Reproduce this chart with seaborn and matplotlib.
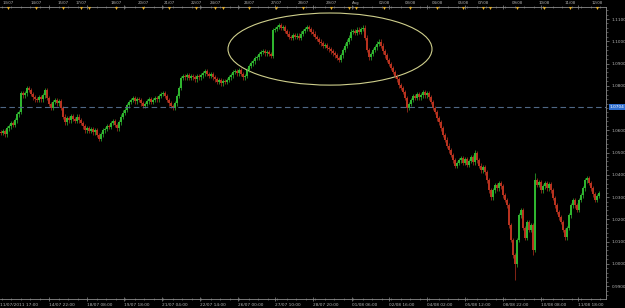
import numpy as np
import pandas as pd
import matplotlib
matplotlib.use("Agg")
import matplotlib.pyplot as plt
import matplotlib.transforms as mtransforms
from matplotlib.patches import Ellipse
from matplotlib.ticker import FixedLocator, MultipleLocator, AutoMinorLocator
import seaborn as sns

# ---------------- data (AUD/USD H1) ----------------
first_open = 1.0592
closes = [
    1.0588, 1.0597, 1.0583, 1.0610, 1.0619, 1.0633, 1.0624, 1.0646, 1.0673, 1.0682,
    1.0767,
    1.0758, 1.0767, 1.0790, 1.0781,
    1.0763, 1.0749, 1.0740,
    1.0736, 1.0749, 1.0740, 1.0758, 1.0781,
    1.0745, 1.0718, 1.0700,
    1.0727, 1.0736, 1.0722, 1.0731,
    1.0700, 1.0660, 1.0637,
    1.0655, 1.0646, 1.0664, 1.0651, 1.0642, 1.0660, 1.0646,
    1.0633, 1.0619, 1.0601, 1.0610, 1.0597,
    1.0606, 1.0592, 1.0601, 1.0579, 1.0561,
    1.0583, 1.0601, 1.0606, 1.0619, 1.0615, 1.0633,
    1.0642, 1.0624, 1.0610,
    1.0637, 1.0660, 1.0678, 1.0691, 1.0713, 1.0727,
    1.0736, 1.0745, 1.0731, 1.0740, 1.0736,
    1.0722, 1.0709, 1.0718,
    1.0731, 1.0740, 1.0727, 1.0736, 1.0745,
    1.0740, 1.0754, 1.0763, 1.0767,
    1.0754, 1.0736, 1.0722, 1.0709, 1.0700,
    1.0722, 1.0754, 1.0790, 1.0835,
    1.0844, 1.0839, 1.0848, 1.0835, 1.0844, 1.0839, 1.0830, 1.0844, 1.0839,
    1.0848, 1.0857, 1.0866, 1.0853, 1.0844, 1.0853, 1.0839, 1.0830,
    1.0817, 1.0826, 1.0812, 1.0821, 1.0817, 1.0826,
    1.0839, 1.0848, 1.0862, 1.0866, 1.0857, 1.0871,
    1.0853, 1.0839, 1.0844,
    1.0871, 1.0889, 1.0902, 1.0911, 1.0925, 1.0929, 1.0943, 1.0952,
    1.0956, 1.0947, 1.0952, 1.0943, 1.0934,
    1.1051,
    1.1055, 1.1064, 1.1073, 1.1060, 1.1064,
    1.1046, 1.1033, 1.1019, 1.1015,
    1.1028, 1.1019, 1.1024, 1.1015,
    1.1033, 1.1046, 1.1055, 1.1064,
    1.1055, 1.1042, 1.1033, 1.1019, 1.1010, 1.0997,
    1.0992, 1.0979, 1.0983, 1.0970, 1.0965, 1.0956,
    1.0947, 1.0938, 1.0925, 1.0916,
    1.0938, 1.0961, 1.0979, 1.0997, 1.1015, 1.1042,
    1.1046, 1.1037, 1.1051, 1.1042, 1.1055, 1.1060,
    1.1015, 1.0961, 1.0929,
    1.0943, 1.0961, 1.0974, 1.0988, 1.0997,
    1.0979, 1.0956, 1.0938, 1.0916, 1.0898, 1.0880, 1.0862,
    1.0844, 1.0830, 1.0803, 1.0790, 1.0772, 1.0745, 1.0700,
    1.0718, 1.0736, 1.0754, 1.0745, 1.0763, 1.0749, 1.0758,
    1.0772, 1.0758, 1.0767, 1.0749,
    1.0727, 1.0700, 1.0682, 1.0655, 1.0637,
    1.0610, 1.0579, 1.0557, 1.0530, 1.0511,
    1.0489, 1.0466, 1.0440, 1.0453,
    1.0466, 1.0475, 1.0453, 1.0471, 1.0444, 1.0462, 1.0480, 1.0457,
    1.0498,
    1.0466, 1.0440, 1.0421,
    1.0435, 1.0412, 1.0376,
    1.0331, 1.0300,
    1.0331, 1.0354, 1.0340, 1.0363, 1.0349,
    1.0309, 1.0287, 1.0264,
    1.0174, 1.0107, 1.0039,
    0.9998, 1.0107, 1.0219, 1.0242,
    1.0161, 1.0116,
    1.0188, 1.0152, 1.0174,
    1.0062,
    1.0376,
    1.0354, 1.0367, 1.0331, 1.0349, 1.0363, 1.0340, 1.0358, 1.0331,
    1.0296, 1.0264, 1.0233, 1.0210,
    1.0188, 1.0152, 1.0120, 1.0161,
    1.0219, 1.0264, 1.0287,
    1.0264, 1.0242, 1.0287,
    1.0309, 1.0340, 1.0376, 1.0385, 1.0363, 1.0340, 1.0313, 1.0287, 1.0305, 1.0318,
]
spike_high = {136: 1.1060, 237: 1.0511, 267: 1.0408}
spike_low = {203: 1.0682, 257: 0.9927, 266: 1.0040}

price_ticks = [1.11, 1.10, 1.09, 1.08, 1.06, 1.05, 1.04, 1.03, 1.02, 1.01, 1.00, 0.99]
current_price = 1.0704

time_tick_bars = [24, 43, 61.5, 80.5, 99.5, 118.5, 137, 156, 175.5, 194, 213, 232, 251, 270, 288.5]
time_tick_labels = ["14/07 22:00", "18/07 08:00", "19/07 18:00", "21/07 04:00", "22/07 14:00",
                    "26/07 00:00", "27/07 10:00", "28/07 20:00", "01/08 06:00", "02/08 16:00",
                    "04/08 02:00", "05/08 12:00", "08/08 22:00", "10/08 08:00", "11/08 18:00"]
first_time_label = "11/07/2011 17:00"

event_bars = [3.5, 17.5, 31, 40, 44, 57.5, 71, 84, 97.5, 107, 111, 124, 137.5, 151, 165, 174,
              177.5, 191.5, 204.5, 218, 231, 241, 244.5, 258, 271.5, 284.5, 298]
event_labels = ["13/07", "14/07", "15/07", "17/07", "", "18/07", "20/07", "21/07", "22/07", "24/07",
                "", "26/07", "27/07", "28/07", "29/07", "", "Aug", "02/08", "03/08", "04/08",
                "05/08", "07/08", "", "09/08", "10/08", "11/08", "12/08"]

# ---------------- build OHLC table ----------------
df = pd.DataFrame({"close": closes})
df["open"] = [first_open] + closes[:-1]
df["bar"] = np.arange(len(df))
wick_pad = 0.0011
df["high"] = df[["open", "close"]].max(axis=1) + wick_pad
df["low"] = df[["open", "close"]].min(axis=1) - wick_pad
for k, v in spike_high.items():
    df.loc[k, "high"] = v
for k, v in spike_low.items():
    df.loc[k, "low"] = v
df["up"] = df["close"] >= df["open"]

# ---------------- style ----------------
sns.set_theme(style="dark", rc={"axes.facecolor": "black", "figure.facecolor": "black",
                                "savefig.facecolor": "black", "axes.grid": False})
plt.rcParams["font.family"] = ["DejaVu Sans"]

GREEN = "#2fb52f"
RED = "#b8321f"
TXT = "#b4b4b4"
AX = "#8c8c8c"

fig = plt.figure(figsize=(6.25, 3.08), dpi=100)
ax = fig.add_axes([0.0, 9 / 308, 606 / 625, 292 / 308])

colors = np.where(df["up"], GREEN, RED)
ax.vlines(df["bar"], df["low"], df["high"], colors=colors, lw=0.5)
body_bottom = df[["open", "close"]].min(axis=1)
body_h = (df["close"] - df["open"]).abs().clip(lower=0.00012)
ax.bar(df["bar"], body_h, bottom=body_bottom, width=0.7, color=colors, linewidth=0)

ax.set_xlim(-0.5, 302.5)
ax.set_ylim(0.9842, 1.1154)

# current-price dashed line and tag
ax.axhline(current_price, color="#4f6886", lw=0.8, ls=(0, (5, 3)))
trans_y = mtransforms.blended_transform_factory(ax.transAxes, ax.transData)
ax.text(1.006, current_price, f"{current_price:.4f}", transform=trans_y, fontsize=3.1,
        color="white", va="center", ha="left", clip_on=False,
        bbox=dict(boxstyle="square,pad=0.25", fc="#2f6fd0", ec="none"))

# ellipse annotation
ax.add_patch(Ellipse((164.5, 1.0965), width=102, height=0.0324, fill=False,
                     edgecolor="#cfcf8c", lw=0.8))

# spines
ax.spines["left"].set_visible(False)
for s in ["right", "bottom", "top"]:
    ax.spines[s].set_color(AX)
    ax.spines[s].set_linewidth(0.6)

# y axis on right
ax.yaxis.tick_right()
ax.yaxis.set_major_locator(FixedLocator(price_ticks))
ax.set_yticklabels([f"{p:.4f}" for p in price_ticks])
ax.yaxis.set_minor_locator(MultipleLocator(0.002))
ax.tick_params(axis="y", which="major", length=2.5, width=0.5, color=AX, labelsize=3.1,
               labelcolor=TXT, pad=1.5, right=True, left=False)
ax.tick_params(axis="y", which="minor", length=1.2, width=0.4, color=AX, right=True, left=False)

# x axis
ax.xaxis.set_major_locator(FixedLocator(time_tick_bars))
ax.set_xticklabels(time_tick_labels, ha="left")
ax.xaxis.set_minor_locator(AutoMinorLocator(4))
ax.tick_params(axis="x", which="major", length=3, width=0.5, color=AX, labelsize=3.1,
               labelcolor=TXT, pad=1.2, top=True, bottom=True, direction="inout")
ax.tick_params(axis="x", which="minor", length=1.5, width=0.4, color=AX, top=True, bottom=True,
               direction="inout")
ax.text(-0.5, -0.012, first_time_label,
        transform=mtransforms.blended_transform_factory(ax.transData, ax.transAxes),
        fontsize=3.1, color=TXT, ha="left", va="top", clip_on=False)

# event markers at top
trans_x = mtransforms.blended_transform_factory(ax.transData, ax.transAxes)
ax.scatter(event_bars, [0.995] * len(event_bars), marker="v", s=5, color="#e0ac2a",
           transform=trans_x, clip_on=False, zorder=5, linewidths=0)
for xb, lab in zip(event_bars, event_labels):
    if lab:
        ax.text(xb, 1.006, lab, transform=trans_x, fontsize=2.8, color=TXT,
                ha="center", va="bottom", clip_on=False)

fig.savefig("out.png", dpi=100, facecolor="black")
